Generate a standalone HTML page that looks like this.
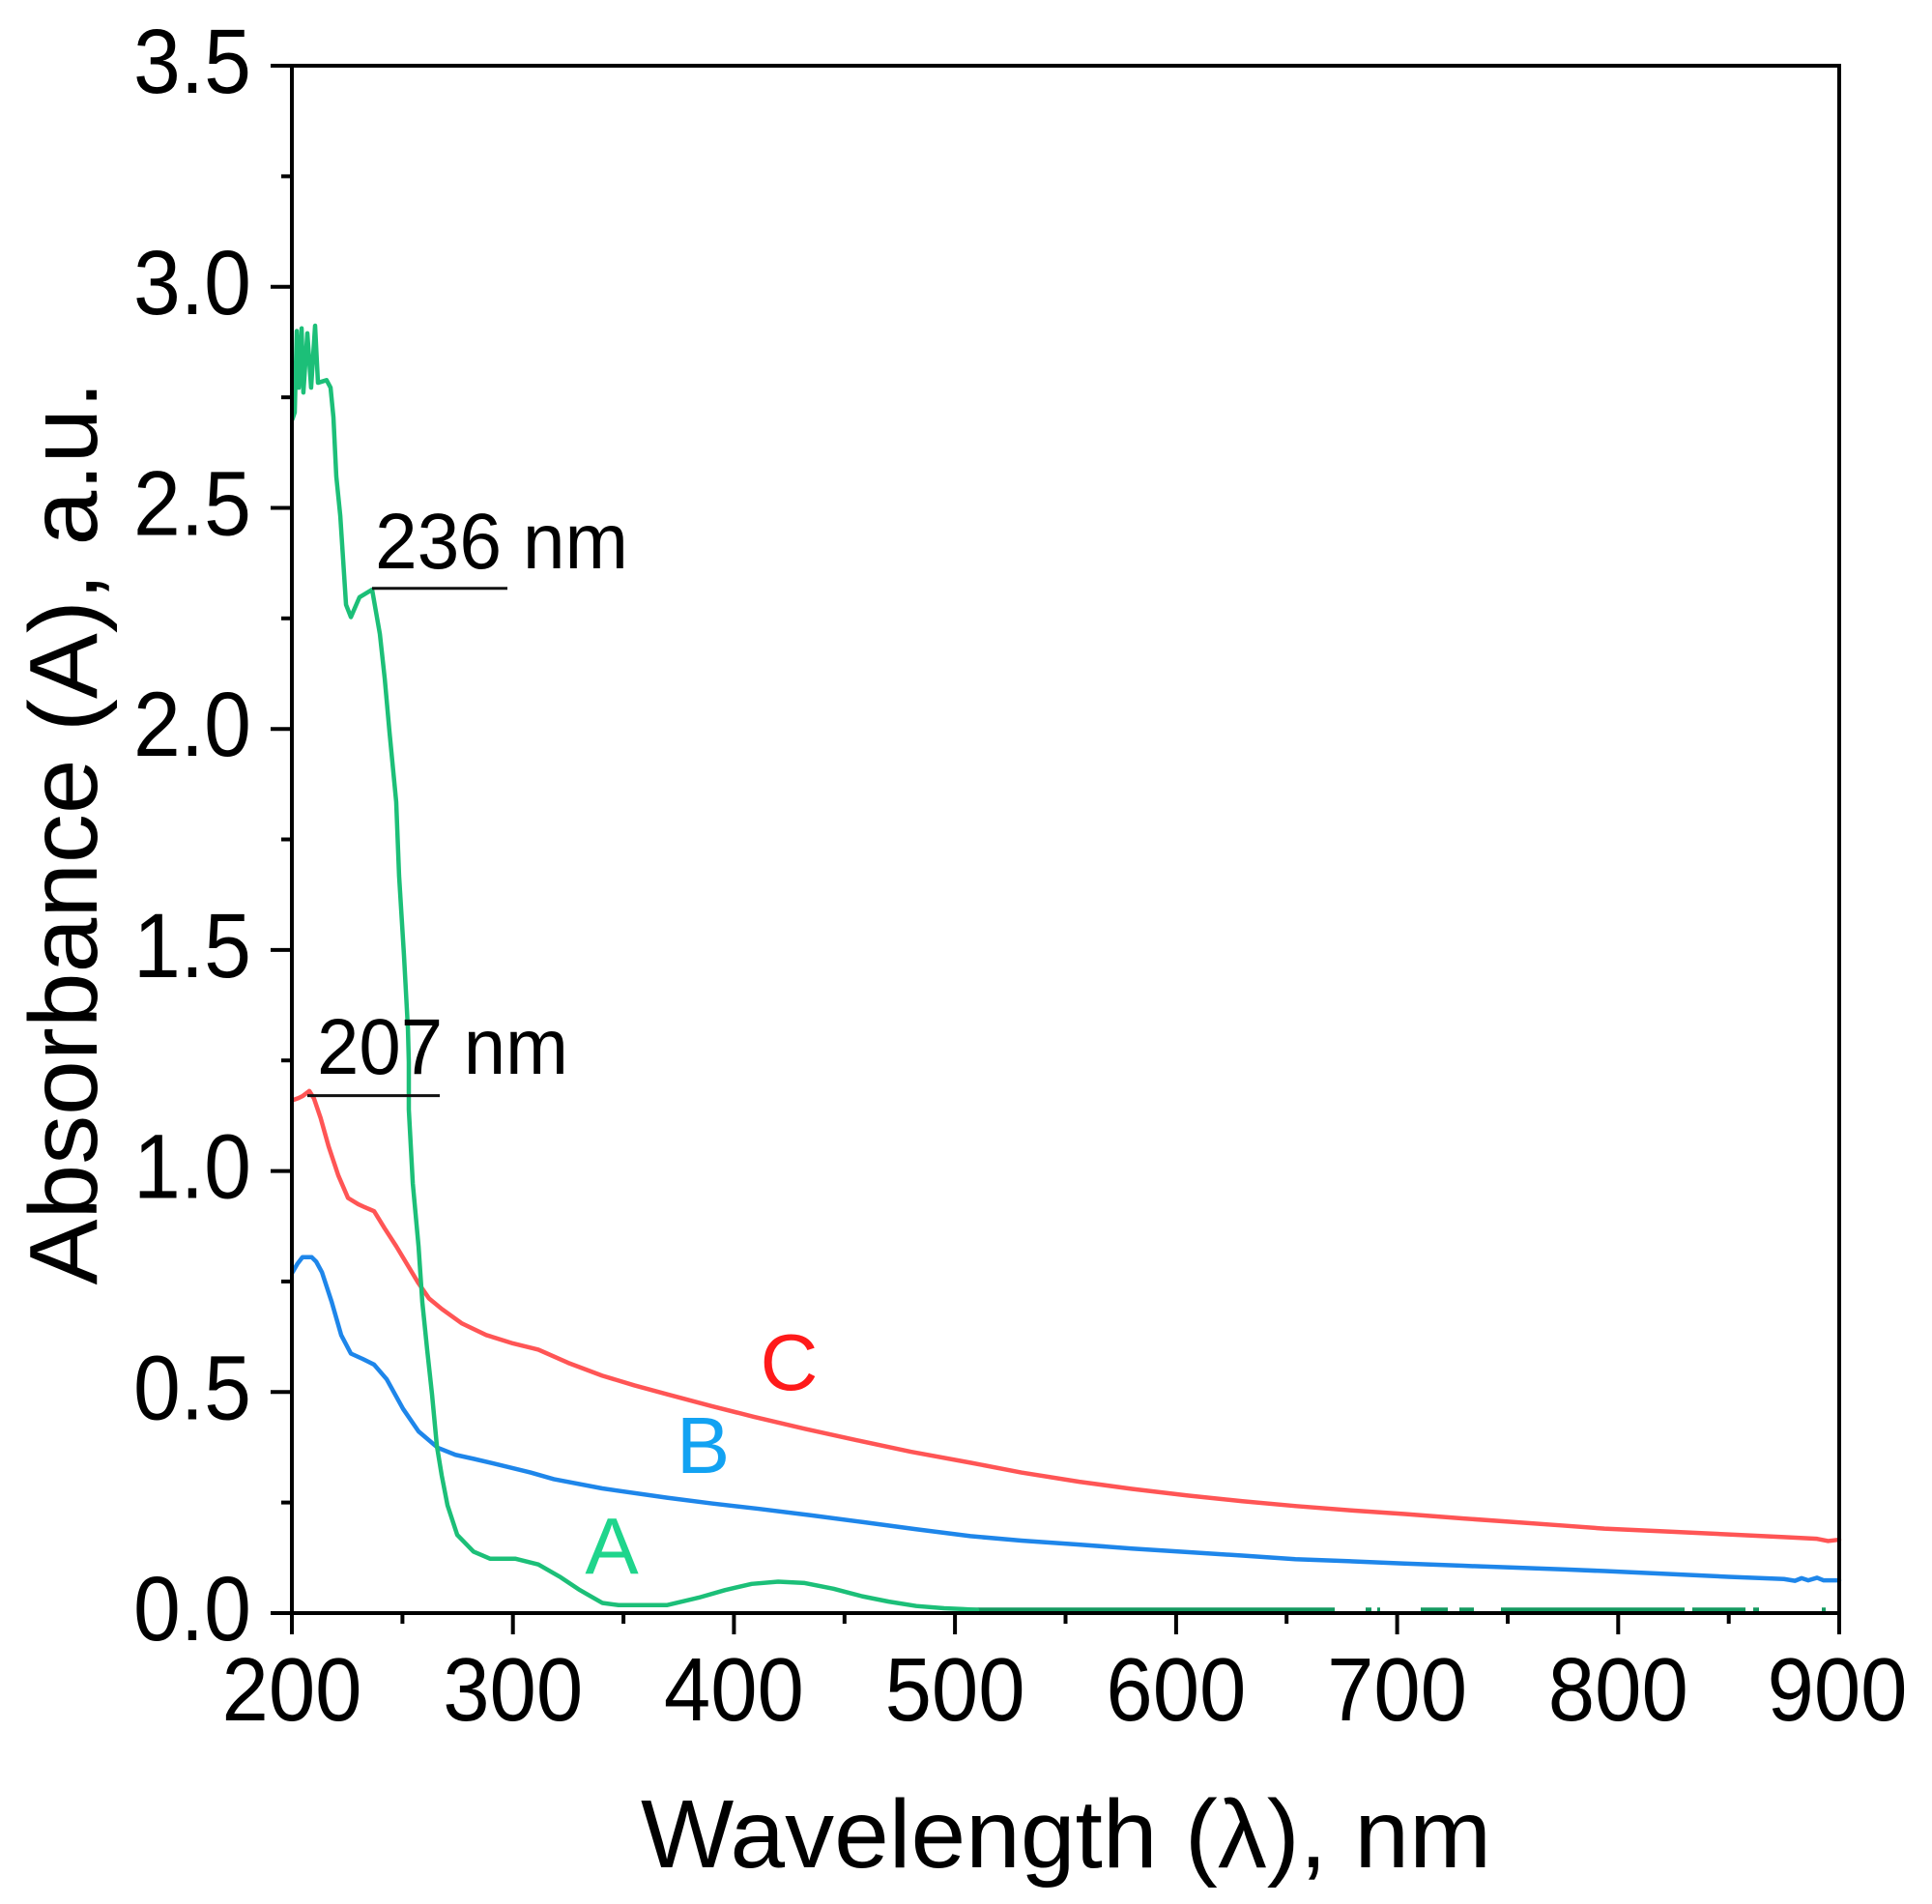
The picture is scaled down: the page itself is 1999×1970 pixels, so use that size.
<!DOCTYPE html>
<html>
<head>
<meta charset="utf-8">
<style>
  html, body { margin:0; padding:0; background:#fff; }
  svg { display:block; }
  text { font-family: "Liberation Sans", Arial, sans-serif; }
</style>
</head>
<body>
<svg width="1999" height="1970" viewBox="0 0 1999 1970" xmlns="http://www.w3.org/2000/svg">
  <rect x="0" y="0" width="1999" height="1970" fill="#fff"/>

  <!-- green near-zero part (sits on the axis) -->
  <g stroke="#149a60" stroke-width="4.5" fill="none">
    <line x1="1000" y1="1665.5" x2="1381" y2="1665.5"/>
    <line x1="1413" y1="1665.5" x2="1419" y2="1665.5"/>
    <line x1="1425" y1="1665.5" x2="1428" y2="1665.5"/>
    <line x1="1470" y1="1665.5" x2="1498" y2="1665.5"/>
    <line x1="1510" y1="1665.5" x2="1525" y2="1665.5"/>
    <line x1="1553" y1="1665.5" x2="1743" y2="1665.5"/>
    <line x1="1751" y1="1665.5" x2="1806" y2="1665.5"/>
    <line x1="1814" y1="1665.5" x2="1820" y2="1665.5"/>
    <line x1="1885" y1="1665.5" x2="1889" y2="1665.5"/>
  </g>

  <!-- data series: data coords mapped to pixels -->
  <g transform="translate(302,1669) scale(2.2871,-457.4) translate(-200,0)" fill="none" stroke-linejoin="round" stroke-linecap="round">
    <!-- C red -->
    <path vector-effect="non-scaling-stroke" stroke="#ff5555" stroke-width="4.5"
      d="M200.3,1.160 L203,1.165 L205,1.170 L207.9,1.181 L210,1.164 L213,1.12 L216.6,1.056 L221,0.99 L225.4,0.939 L230,0.925 L233,0.918 L237.2,0.909 L242,0.87 L247.2,0.830 L252,0.79 L257.3,0.746 L262,0.712 L267.8,0.688 L277,0.655 L287.9,0.629 L300,0.610 L311.5,0.596 L325,0.566 L340.4,0.537 L355,0.515 L369.7,0.495 L390,0.468 L409,0.444 L432,0.417 L455.6,0.391 L480,0.365 L507.2,0.340 L530,0.318 L556.2,0.297 L580,0.281 L605.3,0.266 L630,0.253 L654.4,0.242 L680,0.232 L703.5,0.224 L730,0.214 L752.5,0.206 L775,0.198 L793.8,0.191 L820,0.185 L850,0.178 L875,0.172 L890,0.168 L895,0.163 L900,0.166"/>
    <!-- B blue -->
    <path vector-effect="non-scaling-stroke" stroke="#1e86ea" stroke-width="4.5"
      d="M200.3,0.771 L202.5,0.790 L204.8,0.805 L209,0.805 L211,0.795 L213.6,0.771 L218,0.704 L222.3,0.629 L226.7,0.587 L232,0.575 L237.2,0.562 L242.9,0.529 L250.3,0.462 L257.3,0.411 L266,0.374 L274,0.358 L282.2,0.349 L296.6,0.332 L308,0.318 L318.5,0.303 L340.4,0.282 L369.7,0.261 L390,0.248 L411,0.236 L435,0.221 L458,0.206 L482,0.190 L507,0.174 L530,0.164 L556,0.155 L580,0.146 L605,0.138 L630,0.130 L654,0.122 L680,0.117 L703.5,0.112 L730,0.107 L752.5,0.103 L775,0.099 L794,0.095 L820,0.089 L850,0.082 L875,0.077 L880,0.073 L883,0.079 L886,0.074 L890,0.080 L893,0.074 L900,0.074"/>
    <!-- A green -->
    <path vector-effect="non-scaling-stroke" stroke="#1cbf78" stroke-width="4.5"
      d="M200.2,2.70 L201.3,2.716 L202.2,2.90 L203.1,2.772 L204.4,2.906 L205.2,2.761 L207.0,2.895 L208.7,2.772 L210.5,2.912 L211.8,2.783 L215.7,2.789 L217.5,2.772 L218.8,2.705 L220.1,2.571 L221.9,2.482 L223.2,2.382 L224.5,2.281 L226.7,2.253 L230.6,2.298 L236.3,2.315 L239.8,2.215 L242.0,2.114 L244.2,1.991 L247.2,1.835 L248.5,1.668 L250.7,1.489 L252.5,1.322 L252.9,1.246 L252.9,1.139 L254.7,0.972 L257.3,0.830 L259.0,0.704 L261.2,0.596 L263.4,0.495 L265.6,0.378 L267.8,0.311 L270.4,0.244 L274.8,0.177 L282.2,0.139 L289.6,0.123 L301.0,0.123 L311.5,0.110 L321.6,0.081 L330.3,0.052 L340.4,0.023 L347.8,0.018 L369.6,0.018 L384.1,0.035 L396,0.052 L408,0.066 L420,0.071 L432,0.068 L445,0.055 L458,0.038 L470,0.026 L482.5,0.016 L495,0.011 L503.5,0.009 L510,0.007"/>
  </g>

  <!-- axes box -->
  <g stroke="#000" stroke-width="4" fill="none">
    <rect x="302" y="68" width="1601" height="1601"/>
    <!-- y major ticks -->
    <line x1="280" y1="1669" x2="302" y2="1669"/>
    <line x1="280" y1="1440.3" x2="302" y2="1440.3"/>
    <line x1="280" y1="1211.6" x2="302" y2="1211.6"/>
    <line x1="280" y1="982.9" x2="302" y2="982.9"/>
    <line x1="280" y1="754.2" x2="302" y2="754.2"/>
    <line x1="280" y1="525.5" x2="302" y2="525.5"/>
    <line x1="280" y1="296.8" x2="302" y2="296.8"/>
    <line x1="280" y1="68" x2="302" y2="68"/>
    <!-- y minor ticks -->
    <line x1="291" y1="1554.6" x2="302" y2="1554.6"/>
    <line x1="291" y1="1325.9" x2="302" y2="1325.9"/>
    <line x1="291" y1="1097.2" x2="302" y2="1097.2"/>
    <line x1="291" y1="868.5" x2="302" y2="868.5"/>
    <line x1="291" y1="639.8" x2="302" y2="639.8"/>
    <line x1="291" y1="411.1" x2="302" y2="411.1"/>
    <line x1="291" y1="182.4" x2="302" y2="182.4"/>
    <!-- x major ticks -->
    <line x1="302" y1="1669" x2="302" y2="1691"/>
    <line x1="530.7" y1="1669" x2="530.7" y2="1691"/>
    <line x1="759.4" y1="1669" x2="759.4" y2="1691"/>
    <line x1="988.1" y1="1669" x2="988.1" y2="1691"/>
    <line x1="1216.9" y1="1669" x2="1216.9" y2="1691"/>
    <line x1="1445.6" y1="1669" x2="1445.6" y2="1691"/>
    <line x1="1674.3" y1="1669" x2="1674.3" y2="1691"/>
    <line x1="1903" y1="1669" x2="1903" y2="1691"/>
    <!-- x minor ticks -->
    <line x1="416.4" y1="1669" x2="416.4" y2="1680"/>
    <line x1="645.1" y1="1669" x2="645.1" y2="1680"/>
    <line x1="873.8" y1="1669" x2="873.8" y2="1680"/>
    <line x1="1102.5" y1="1669" x2="1102.5" y2="1680"/>
    <line x1="1331.2" y1="1669" x2="1331.2" y2="1680"/>
    <line x1="1560" y1="1669" x2="1560" y2="1680"/>
    <line x1="1788.7" y1="1669" x2="1788.7" y2="1680"/>
  </g>

  <!-- y tick labels -->
  <g font-size="95" fill="#000" text-anchor="end">
    <text x="260" y="1697" textLength="122" lengthAdjust="spacingAndGlyphs">0.0</text>
    <text x="260" y="1468.3" textLength="122" lengthAdjust="spacingAndGlyphs">0.5</text>
    <text x="260" y="1239.6" textLength="122" lengthAdjust="spacingAndGlyphs">1.0</text>
    <text x="260" y="1010.9" textLength="122" lengthAdjust="spacingAndGlyphs">1.5</text>
    <text x="260" y="782.2" textLength="122" lengthAdjust="spacingAndGlyphs">2.0</text>
    <text x="260" y="553.5" textLength="122" lengthAdjust="spacingAndGlyphs">2.5</text>
    <text x="260" y="324.8" textLength="122" lengthAdjust="spacingAndGlyphs">3.0</text>
    <text x="260" y="96" textLength="122" lengthAdjust="spacingAndGlyphs">3.5</text>
  </g>

  <!-- x tick labels -->
  <g font-size="93" fill="#000" text-anchor="middle">
    <text x="302" y="1780" textLength="145" lengthAdjust="spacingAndGlyphs">200</text>
    <text x="530.7" y="1780" textLength="145" lengthAdjust="spacingAndGlyphs">300</text>
    <text x="759.4" y="1780" textLength="145" lengthAdjust="spacingAndGlyphs">400</text>
    <text x="988.1" y="1780" textLength="145" lengthAdjust="spacingAndGlyphs">500</text>
    <text x="1216.9" y="1780" textLength="145" lengthAdjust="spacingAndGlyphs">600</text>
    <text x="1445.6" y="1780" textLength="145" lengthAdjust="spacingAndGlyphs">700</text>
    <text x="1674.3" y="1780" textLength="145" lengthAdjust="spacingAndGlyphs">800</text>
    <text x="1901" y="1780" textLength="145" lengthAdjust="spacingAndGlyphs">900</text>
  </g>

  <!-- axis titles -->
  <text x="1103" y="1932" font-size="100" fill="#000" text-anchor="middle" textLength="880" lengthAdjust="spacingAndGlyphs">Wavelength (λ), nm</text>
  <text transform="translate(100,862) rotate(-90)" font-size="100" fill="#000" text-anchor="middle" textLength="935" lengthAdjust="spacingAndGlyphs">Absorbance (A), a.u.</text>

  <!-- annotations -->
  <line x1="385" y1="608.7" x2="525" y2="608.7" stroke="#111" stroke-width="3"/>
  <text x="388" y="588" font-size="82" fill="#000" textLength="262" lengthAdjust="spacingAndGlyphs">236 nm</text>
  <line x1="318" y1="1133.6" x2="455" y2="1133.6" stroke="#111" stroke-width="3"/>
  <text x="328" y="1111" font-size="82" fill="#000" textLength="260" lengthAdjust="spacingAndGlyphs">207 nm</text>

  <!-- series letters -->
  <text x="816.5" y="1438" font-size="83" fill="#ff1a1a" text-anchor="middle">C</text>
  <text x="727.5" y="1524" font-size="83" fill="#12a2f2" text-anchor="middle">B</text>
  <text x="633" y="1628" font-size="83" fill="#1fd58c" text-anchor="middle">A</text>
</svg>
</body>
</html>
